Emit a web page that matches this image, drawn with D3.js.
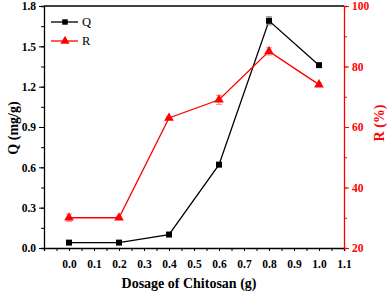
<!DOCTYPE html>
<html>
<head>
<meta charset="utf-8">
<script src="https://cdn.jsdelivr.net/npm/d3@7"></script>
<style>
  body { margin: 0; background: #fff; }
  text { font-family: "Liberation Serif", "Times New Roman", serif; }
</style>
</head>
<body>
<svg id="chart" width="387" height="295"></svg>
<script>
// dosage of chitosan (g)
var dosage = [0.0, 0.2, 0.4, 0.6, 0.8, 1.0];
// adsorption capacity Q (mg/g)
var qValues = [0.04, 0.04, 0.10, 0.62, 1.69, 1.36];
var qErrors = [0.01, 0.005, 0.01, 0.015, 0.03, 0.01];
// removal R (%)
var rValues = [30, 30, 63, 69, 85, 74];
var rErrors = [1.2, 0.5, 0.5, 1.5, 1.2, 0.5];

var xTicks = [0.0, 0.1, 0.2, 0.3, 0.4, 0.5, 0.6, 0.7, 0.8, 0.9, 1.0, 1.1];
var qTicks = [0.0, 0.3, 0.6, 0.9, 1.2, 1.5, 1.8];
var rTicks = [20, 40, 60, 80, 100];

var svg = d3.select("#chart");
var mLeft = 44, mRight = 344, mTop = 6, mBottom = 248;

var x = d3.scaleLinear().domain([-0.1, 1.1]).range([mLeft, mRight]);
var yQ = d3.scaleLinear().domain([0, 1.8]).range([mBottom, mTop]);
var yR = d3.scaleLinear().domain([20, 100]).range([mBottom, mTop]);

var red = "#ff0000";

// top frame line
svg.append("line")
	.attr("x1", mLeft).attr("x2", mRight)
	.attr("y1", mTop).attr("y2", mTop)
	.attr("stroke", "#000").attr("stroke-width", 1.3);

// x axis
var xMinor = d3.range(-0.05, 1.11, 0.05);
svg.append("g")
	.attr("transform", "translate(0," + mBottom + ")")
	.call(d3.axisBottom(x).tickValues(xMinor).tickSize(3).tickFormat(""))
	.call(function(g) { g.select(".domain").attr("stroke-width", 1.3); });
svg.append("g")
	.attr("transform", "translate(0," + mBottom + ")")
	.call(d3.axisBottom(x).tickValues(xTicks).tickSize(3).tickPadding(9).tickFormat(d3.format(".1f")))
	.call(function(g) {
		g.select(".domain").remove();
		g.selectAll("text").attr("font-size", 11.5).attr("font-weight", "bold")
			.attr("font-family", "Liberation Serif");
	});

// left axis
var qMinor = d3.range(0, 1.81, 0.15);
svg.append("g")
	.attr("transform", "translate(" + mLeft + ",0)")
	.call(d3.axisLeft(yQ).tickValues(qMinor).tickSize(3).tickFormat(""))
	.call(function(g) { g.select(".domain").attr("stroke-width", 1.3); });
svg.append("g")
	.attr("transform", "translate(" + mLeft + ",0)")
	.call(d3.axisLeft(yQ).tickValues(qTicks).tickSize(5).tickPadding(3).tickFormat(d3.format(".1f")))
	.call(function(g) {
		g.select(".domain").remove();
		g.selectAll("text").attr("font-size", 11.5).attr("font-weight", "bold")
			.attr("font-family", "Liberation Serif");
	});

// right axis (red)
var rMinor = d3.range(20, 101, 10);
svg.append("g")
	.attr("transform", "translate(" + mRight + ",0)")
	.call(d3.axisRight(yR).tickValues(rMinor).tickSize(3).tickFormat(""))
	.call(function(g) {
		g.select(".domain").attr("stroke", red).attr("stroke-width", 1.3);
		g.selectAll("line").attr("stroke", red);
	});
svg.append("g")
	.attr("transform", "translate(" + mRight + ",0)")
	.call(d3.axisRight(yR).tickValues(rTicks).tickSize(5).tickPadding(3))
	.call(function(g) {
		g.select(".domain").remove();
		g.selectAll("line").attr("stroke", red);
		g.selectAll("text").attr("font-size", 11.5).attr("font-weight", "bold")
			.attr("fill", red).attr("font-family", "Liberation Serif");
	});

// axis titles
svg.append("text")
	.attr("x", 189).attr("y", 288)
	.attr("text-anchor", "middle")
	.attr("font-size", 14).attr("font-weight", "bold")
	.text("Dosage of Chitosan (g)");
svg.append("text")
	.attr("transform", "translate(18,128) rotate(-90)")
	.attr("text-anchor", "middle")
	.attr("font-size", 14).attr("font-weight", "bold")
	.text("Q (mg/g)");
svg.append("text")
	.attr("transform", "translate(384,123) rotate(-90)")
	.attr("text-anchor", "middle")
	.attr("font-size", 14).attr("font-weight", "bold")
	.attr("fill", red)
	.text("R (%)");

var qData = dosage.map(function(d, i) { return {x: d, y: qValues[i], e: qErrors[i]}; });
var rData = dosage.map(function(d, i) { return {x: d, y: rValues[i], e: rErrors[i]}; });

function drawSeries(data, yScale, color, errColor, symbolType, symbolSize) {
	var g = svg.append("g");
	g.append("path")
		.datum(data)
		.attr("fill", "none")
		.attr("stroke", color)
		.attr("stroke-width", 1.3)
		.attr("d", d3.line().x(function(d) { return x(d.x); }).y(function(d) { return yScale(d.y); }));
	var eb = g.selectAll(".err").data(data).enter().append("g").attr("class", "err")
		.attr("stroke", errColor).attr("stroke-width", 1);
	eb.append("line")
		.attr("x1", function(d) { return x(d.x); }).attr("x2", function(d) { return x(d.x); })
		.attr("y1", function(d) { return yScale(d.y - d.e); })
		.attr("y2", function(d) { return yScale(d.y + d.e); });
	eb.append("line")
		.attr("x1", function(d) { return x(d.x) - 3; }).attr("x2", function(d) { return x(d.x) + 3; })
		.attr("y1", function(d) { return yScale(d.y + d.e); })
		.attr("y2", function(d) { return yScale(d.y + d.e); });
	eb.append("line")
		.attr("x1", function(d) { return x(d.x) - 3; }).attr("x2", function(d) { return x(d.x) + 3; })
		.attr("y1", function(d) { return yScale(d.y - d.e); })
		.attr("y2", function(d) { return yScale(d.y - d.e); });
	g.selectAll(".pt").data(data).enter().append("path")
		.attr("class", "pt")
		.attr("transform", function(d) { return "translate(" + x(d.x) + "," + yScale(d.y) + ")"; })
		.attr("d", d3.symbol().type(symbolType).size(symbolSize))
		.attr("fill", color);
}

drawSeries(qData, yQ, "#000", "#888", d3.symbolSquare, 36);
drawSeries(rData, yR, red, "#ff8080", d3.symbolTriangle, 40);

// legend
var legend = [
	{label: "Q", color: "#000", type: d3.symbolSquare, size: 30, y: 22},
	{label: "R", color: red, type: d3.symbolTriangle, size: 36, y: 41}
];
var lg = svg.selectAll(".legend").data(legend).enter().append("g").attr("class", "legend");
lg.append("line")
	.attr("x1", 51).attr("x2", 78)
	.attr("y1", function(d) { return d.y; }).attr("y2", function(d) { return d.y; })
	.attr("stroke", function(d) { return d.color; }).attr("stroke-width", 1.3);
lg.append("path")
	.attr("transform", function(d) { return "translate(65," + d.y + ")"; })
	.attr("d", function(d) { return d3.symbol().type(d.type).size(d.size)(); })
	.attr("fill", function(d) { return d.color; });
lg.append("text")
	.attr("x", 82).attr("y", function(d) { return d.y + 4; })
	.attr("font-size", 12.5)
	.text(function(d) { return d.label; });
</script>
</body>
</html>
